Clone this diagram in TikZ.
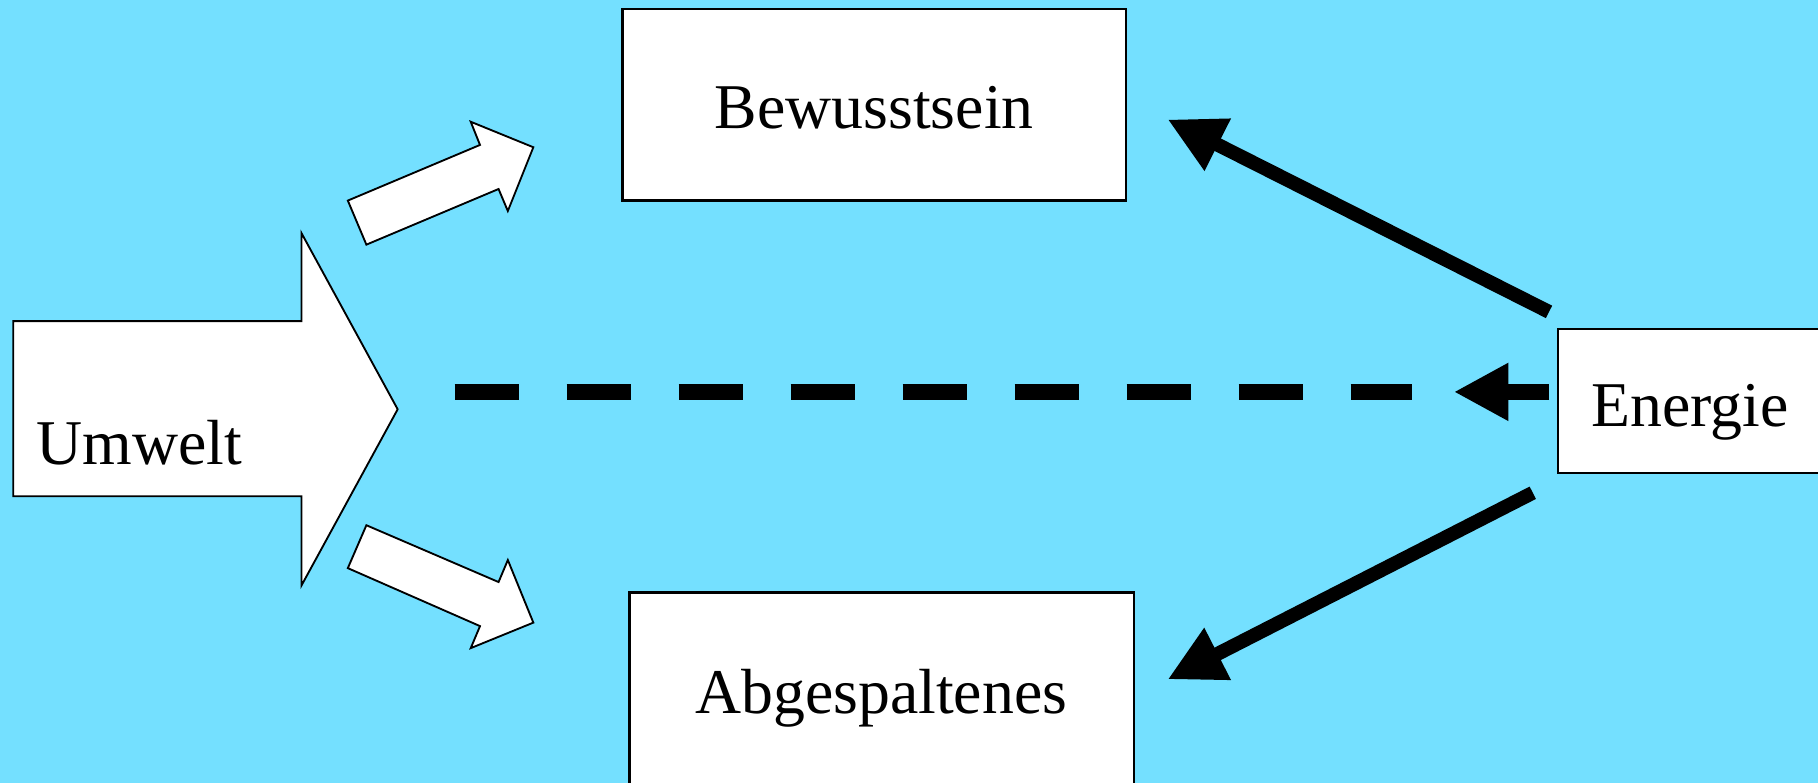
\documentclass[tikz,border=0pt]{standalone}
\usepackage{fontspec}
\setmainfont{Liberation Serif}
\usetikzlibrary{arrows.meta,calc}
\definecolor{bg}{RGB}{116,224,255}
\begin{document}
\begin{tikzpicture}[x=0.5pt,y=-0.5pt,
  box/.style={draw=black,line width=1pt,fill=white,inner sep=0pt},
  lbl/.style={font=\fontsize{27.5}{33}\selectfont,inner sep=0pt,anchor=base},
  shapearrow/.style={draw=black,line width=0.8pt,fill=white,line join=miter},
  boldarrow/.style={line width=6pt,-{Triangle[length=24.25pt,width=23.5pt]}},
  midarrow/.style={line width=7pt,-{Triangle[length=23.5pt,width=23.5pt]}},
]
\fill[bg] (0,0) rectangle (1568,675.3);
\useasboundingbox (0,0) rectangle (1568,675.3);
\clip (0,0) rectangle (1568,675.3);

% boxes
\node[box,minimum width=217pt,minimum height=82.5pt] (bew) at (754,90.5) {};
\node[lbl] (bewt) at (754,111) {Bewusstsein};
\node[box,minimum width=217.5pt,minimum height=94.5pt] (abg) at (760.5,605.5) {};
\node[lbl] (abgt) at (760,615) {Abgespaltenes};
\node[box,minimum width=128pt,minimum height=62pt] (ene) at (1472,346) {};
\node[lbl,anchor=base west] (enet) at (1372,368) {Energie};

% Umwelt arrow
\draw[shapearrow] (11.4,277) -- (260,277) -- (260,201) -- (343,353) -- (260,505) -- (260,428) -- (11.4,428) -- cycle;
\node[lbl,anchor=base west] (umw) at (31,401) {Umwelt};

% small arrows
\draw[shapearrow] (300,173) -- (414,125) -- (406,105) -- (460,127) -- (438,182) -- (430,163) -- (316,211) -- cycle;
\draw[shapearrow] (300,490) -- (316,453) -- (430,502) -- (438,483) -- (460,537) -- (406,559) -- (414,540) -- cycle;

% Energie arrows
\draw[boldarrow] ($(ene.north west)+(-7,-14)$) -- ($(bew.north east)+(35,96)$);
\draw[boldarrow] ($(ene.south west)+(-21,16)$) -- ($(abg.north east)+(28,76)$);
\draw[midarrow] ($(ene.west)+(-7,-8)$) -- ++(-82,0) coordinate (mtip);
\coordinate (ds) at (392,338);
\draw[line width=7pt,dash pattern=on 27.75pt off 20.55pt] (ds) -- ($(mtip)+(-36,0)$);
\end{tikzpicture}
\end{document}
